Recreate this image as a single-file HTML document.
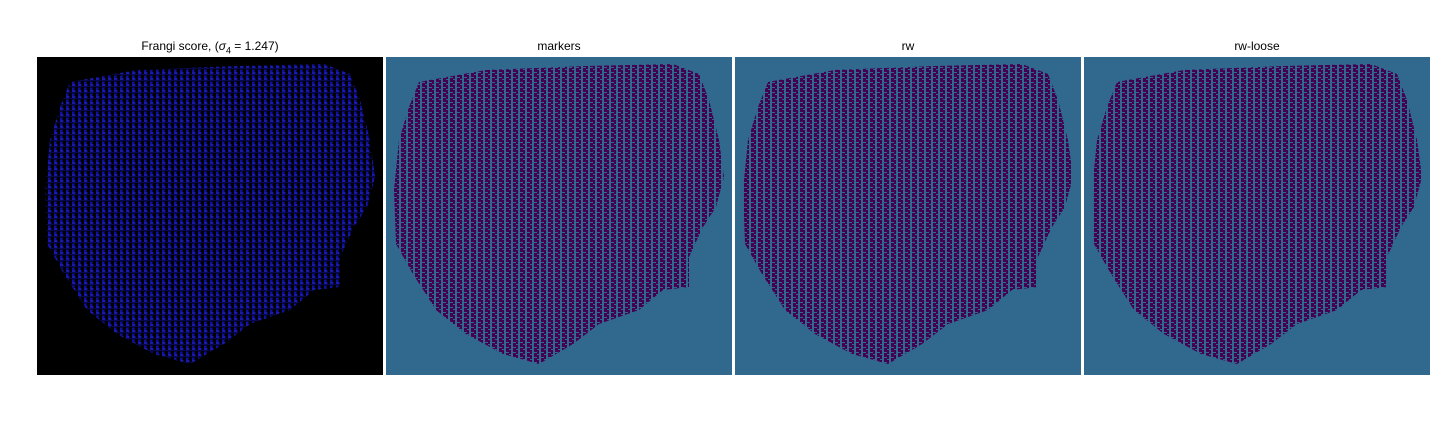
<!DOCTYPE html>
<html><head><meta charset="utf-8">
<style>
body{margin:0;background:#fff;width:1440px;height:432px;overflow:hidden;font-family:"Liberation Sans","DejaVu Sans",sans-serif}
.t{position:absolute;top:39px;font-size:12px;text-align:center;width:346px;color:#000}
</style></head><body>
<div class="t" style="left:37px">Frangi score, (<i>σ</i><sub style="font-size:9px">4</sub> = 1.247)</div>
<div class="t" style="left:386px">markers</div>
<div class="t" style="left:735px">rw</div>
<div class="t" style="left:1084px">rw-loose</div>
<svg id="s" width="1440" height="432" style="position:absolute;left:0;top:0">
<defs>
<pattern id="p1" width="6" height="6" patternUnits="userSpaceOnUse">
<rect width="6" height="6" fill="#08084e"/><rect x="0" y="0" width="3" height="2" fill="#1a1aa8"/><rect x="3" y="3" width="3" height="3" fill="#000"/><rect x="4" y="0" width="2" height="2" fill="#000"/><rect x="0" y="4" width="2" height="2" fill="#1010a0"/>
</pattern>
<pattern id="p2" width="7" height="5" patternUnits="userSpaceOnUse">
<rect width="7" height="5" fill="#440154"/><rect x="0" y="0" width="2" height="5" fill="#2f6a8c"/><rect x="2" y="2" width="3" height="1" fill="#2f6a8c"/><rect x="5" y="4" width="2" height="1" fill="#2f6a8c"/>
</pattern>
</defs>
</svg>
<script>
const blob=[[33,25],[100,13],[200,9],[287,7],[313,17],[323,43],[333,83],[338,120],[330,150],[317,170],[303,200],[303,230],[277,233],[253,253],[213,267],[187,287],[153,307],[117,297],[80,277],[50,253],[27,217],[10,187],[8,133],[13,83],[23,50]];
const panels=[{x:37,bg:"#000",fill:"url(#p1)",n:"frangi"},{x:386,bg:"#31688e",fill:"url(#p2)",n:"markers"},{x:735,bg:"#31688e",fill:"url(#p2)",n:"rw"},{x:1084,bg:"#31688e",fill:"url(#p2)",n:"rw-loose"}];
const s=document.getElementById('s');const NS="http://www.w3.org/2000/svg";
panels.forEach(p=>{
 const r=document.createElementNS(NS,'rect');
 r.setAttribute('x',p.x);r.setAttribute('y',57);r.setAttribute('width',346);r.setAttribute('height',318);r.setAttribute('fill',p.bg);
 
 
 s.appendChild(r);
 const g=document.createElementNS(NS,'polygon');
 g.setAttribute('points',blob.map(q=>(p.x+q[0])+','+(57+q[1])).join(' '));
 g.setAttribute('fill',p.fill);
 
 
 s.appendChild(g);
});
</script>
</body></html>
